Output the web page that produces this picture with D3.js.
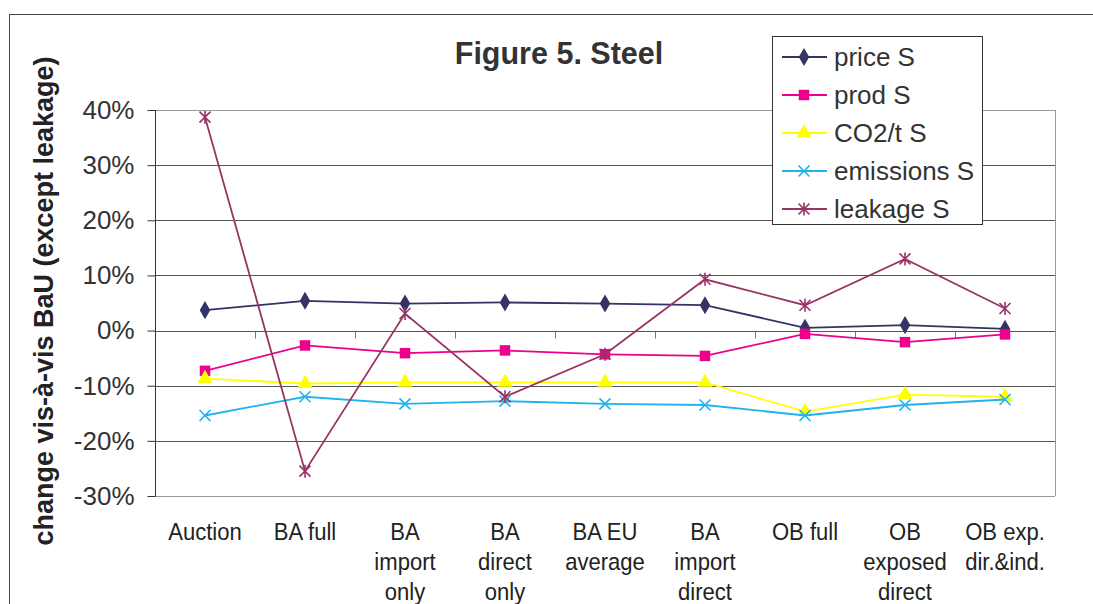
<!DOCTYPE html>
<html><head><meta charset="utf-8">
<script src="https://cdn.jsdelivr.net/npm/d3@7"></script>
<style>body{margin:0;background:#fff}svg{display:block}text{font-family:"Liberation Sans",Arial,sans-serif}</style>
</head><body><svg id="c" width="1093" height="604"></svg>
<script>
const categories = [["Auction"],["BA full"],["BA","import","only"],["BA","direct","only"],["BA EU","average"],["BA","import","direct"],["OB full"],["OB","exposed","direct"],["OB exp.","dir.&ind."]];
const priceS = [3.7, 5.4, 4.9, 5.1, 4.9, 4.6, 0.5, 1.0, 0.3];
const prodS = [-7.3, -2.7, -4.1, -3.6, -4.3, -4.6, -0.6, -2.1, -0.7];
const co2S = [-8.7, -9.6, -9.4, -9.4, -9.4, -9.4, -14.7, -11.6, -12.0];
const emissionsS = [-15.4, -12.0, -13.3, -12.8, -13.3, -13.5, -15.4, -13.5, -12.5];
const leakageS = [38.7, -25.5, 3.1, -12.0, -4.3, 9.3, 4.6, 13.0, 4.0];
const yTicks = [40, 30, 20, 10, 0, -10, -20, -30];
const seriesNames = ["price S","prod S","CO2/t S","emissions S","leakage S"];

const series = [
  {name: seriesNames[0], values: priceS, color: "#333366", marker: "diamond"},
  {name: seriesNames[1], values: prodS, color: "#ec008c", marker: "square"},
  {name: seriesNames[2], values: co2S, color: "#ffff00", marker: "triangle"},
  {name: seriesNames[3], values: emissionsS, color: "#1eb4ee", marker: "x"},
  {name: seriesNames[4], values: leakageS, color: "#993366", marker: "star"}
];

const svg = d3.select("#c");
const L = 155, R = 1055, T = 110, B = 496;

// outer frame
svg.append("rect").attr("x", 9.5).attr("y", 14.5).attr("width", 1100).attr("height", 700)
  .attr("fill", "none").attr("stroke", "#444").attr("stroke-width", 1);

const x = d3.scaleBand().domain(d3.range(categories.length)).range([L, R]);
const y = d3.scaleLinear().domain([-30, 40]).range([B, T]);

// gridlines
svg.append("g").selectAll("line").data(yTicks).join("line")
  .attr("x1", L).attr("x2", R)
  .attr("y1", d => Math.round(y(d)) + 0.5).attr("y2", d => Math.round(y(d)) + 0.5)
  .attr("stroke", d => (d === 40 || d === -30) ? "#a09898" : "#555").attr("stroke-width", 1);
// right border
svg.append("line").attr("x1", R + 0.5).attr("x2", R + 0.5).attr("y1", T).attr("y2", B)
  .attr("stroke", "#999");

// y axis
const yAxis = d3.axisLeft(y).tickValues(yTicks).tickSize(8).tickFormat(d => d + "%");
const ga = svg.append("g").attr("transform", `translate(${L + 0.5},0)`).call(yAxis);
ga.select(".domain").attr("stroke", "#333").attr("d", `M0,${T}V${B}`);
ga.selectAll(".tick line").attr("stroke", "#333");
ga.selectAll(".tick text").attr("font-size", 26).attr("fill", "#333").attr("x", -21)
  .attr("font-family", '"Liberation Sans",Arial,sans-serif');

// x axis ticks on 0 line
const x0 = Math.round(y(0)) + 0.5;
svg.append("g").selectAll("line").data(d3.range(1, categories.length)).join("line")
  .attr("x1", i => Math.round(x(i)) + 0.5).attr("x2", i => Math.round(x(i)) + 0.5)
  .attr("y1", x0).attr("y2", x0 + 7).attr("stroke", "#777");

// x labels
const xl = svg.append("g");
categories.forEach((lines, i) => {
  const cx = x(i) + x.bandwidth() / 2;
  const t = xl.append("text").attr("transform", `translate(${cx},0) scale(0.92,1)`)
    .attr("text-anchor", "middle").attr("font-size", 24).attr("fill", "#222");
  lines.forEach((ln, j) => t.append("tspan").attr("x", 0).attr("y", 540 + j * 30).text(ln));
});

// y title
svg.append("text").attr("transform", "translate(53,301) rotate(-90)")
  .attr("text-anchor", "middle").attr("font-size", 27).attr("font-weight", "bold").attr("fill", "#222")
  .text("change vis-à-vis BaU (except leakage)");

// title
svg.append("text").attr("x", 559).attr("y", 64).attr("text-anchor", "middle")
  .attr("font-size", 30.5).attr("font-weight", "bold").attr("fill", "#333").text("Figure 5. Steel");

function drawMarker(g, type, color, cx, cy) {
  if (type === "diamond") {
    g.append("path").attr("d", d3.symbol(d3.symbolDiamond, 95)()).attr("transform", `translate(${cx},${cy})`).attr("fill", color);
  } else if (type === "square") {
    g.append("path").attr("d", d3.symbol(d3.symbolSquare, 110)()).attr("transform", `translate(${cx},${cy})`).attr("fill", color);
  } else if (type === "triangle") {
    g.append("path").attr("d", d3.symbol(d3.symbolTriangle, 100)()).attr("transform", `translate(${cx},${cy})`).attr("fill", color);
  } else if (type === "x" || type === "star") {
    const s = 5.5;
    let d = `M${-s},${-s}L${s},${s}M${-s},${s}L${s},${-s}`;
    if (type === "star") d += `M0,${-s - 1}V${s + 1}`;
    g.append("path").attr("d", d).attr("transform", `translate(${cx},${cy})`).attr("stroke", color).attr("stroke-width", 1.6).attr("fill", "none");
  }
}

const line = d3.line().x((d, i) => x(i) + x.bandwidth() / 2).y(d => y(d));
series.forEach(s => {
  const g = svg.append("g");
  g.append("path").attr("d", line(s.values)).attr("fill", "none").attr("stroke", s.color).attr("stroke-width", 1.8);
  s.values.forEach((v, i) => drawMarker(g, s.marker, s.color, x(i) + x.bandwidth() / 2, y(v)));
});

// legend
const lg = svg.append("g");
lg.append("rect").attr("x", 772.5).attr("y", 36.5).attr("width", 210).attr("height", 188)
  .attr("fill", "#fff").attr("stroke", "#333");
series.forEach((s, i) => {
  const ly = 57 + i * 38;
  lg.append("line").attr("x1", 782).attr("x2", 827).attr("y1", ly).attr("y2", ly).attr("stroke", s.color).attr("stroke-width", 1.8);
  drawMarker(lg, s.marker, s.color, 804, ly);
  lg.append("text").attr("x", 834).attr("y", ly + 9).attr("font-size", 26).attr("fill", "#333").text(s.name);
});
</script></body></html>
